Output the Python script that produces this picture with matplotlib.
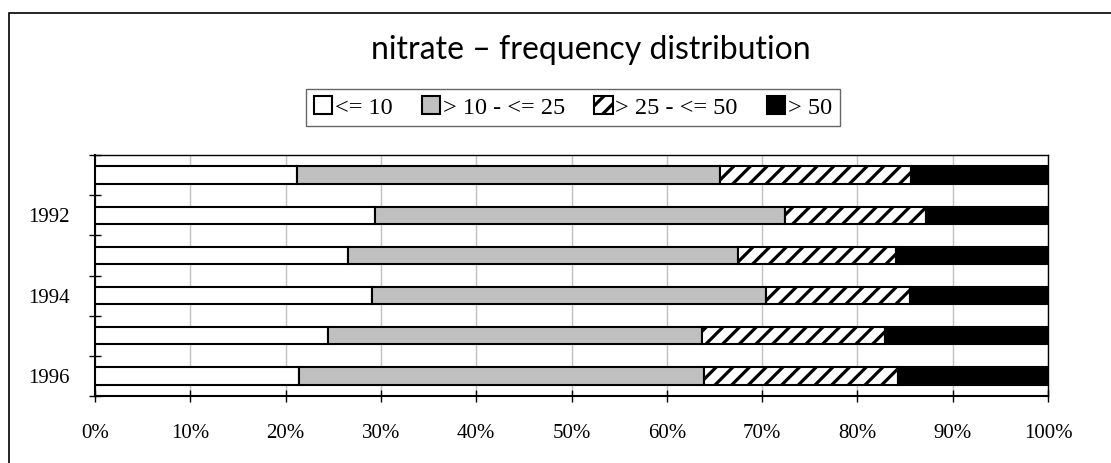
import matplotlib
matplotlib.use("Agg")
import matplotlib.pyplot as plt
from matplotlib.patches import Rectangle
from matplotlib.ticker import FixedLocator, PercentFormatter

# Данные (доли в %), сверху вниз: 1991 ... 1996
years = ["1991", "1992", "1993", "1994", "1995", "1996"]
shown_years = ["1992", "1994", "1996"]
classes = ["<= 10", "> 10 - <= 25", "> 25 - <= 50", "> 50"]
le_10 = [21.2, 29.4, 26.5, 29.1, 24.5, 21.4]
gt10_le25 = [44.4, 43.0, 41.0, 41.3, 39.2, 42.5]
gt25_le50 = [20.0, 14.8, 16.6, 15.1, 19.2, 20.4]
gt_50 = [14.4, 12.8, 15.9, 14.5, 17.1, 15.7]

series = [le_10, gt10_le25, gt25_le50, gt_50]
colors = ["white", "#c0c0c0", "white", "black"]
hatches = [None, None, "//", None]

plt.rcParams["hatch.linewidth"] = 2.3
serif = "Liberation Serif"

fig = plt.figure(figsize=(11.11, 4.63), dpi=100)
ax = fig.add_axes([95 / 1111, 1 - 396 / 463, 953 / 1111, 241 / 463])

pos = list(range(len(years)))
left = [0.0] * len(years)
handles = []
for vals, col, h, lab in zip(series, colors, hatches, classes):
    b = ax.barh(pos, vals, left=left, height=0.43, color=col, hatch=h,
                edgecolor="black", linewidth=1.5, label=lab, zorder=3)
    handles.append(b)
    left = [l + v for l, v in zip(left, vals)]

ax.set_xlim(0, 100)
ax.set_ylim(len(years) - 0.5, -0.5)

ax.xaxis.set_major_locator(FixedLocator(range(0, 101, 10)))
ax.xaxis.set_major_formatter(PercentFormatter(decimals=0))
ax.tick_params(axis="x", direction="inout", length=8, width=1, pad=16,
               labelsize=15)
for t in ax.get_xticklabels():
    t.set_fontfamily(serif)

# подписи только для чётных лет, риски — на границах категорий
ax.set_yticks([years.index(y) for y in shown_years])
ax.set_yticklabels(shown_years, fontfamily=serif, fontsize=15)
ax.tick_params(axis="y", which="major", length=0, pad=18)
ax.set_yticks([p - 0.5 for p in range(len(years) + 1)], minor=True)
ax.tick_params(axis="y", which="minor", direction="inout", length=8, width=1)

ax.grid(axis="x", color="#c0c0c0", linewidth=1, zorder=0)
ax.set_axisbelow(True)
for side in ["left", "bottom"]:
    ax.spines[side].set_linewidth(1.5)
for side in ["top", "right"]:
    ax.spines[side].set_linewidth(1.0)

fig.text(591 / 1111, 1 - 50 / 463, "nitrate \u2013 frequency distribution",
         ha="center", va="center", fontsize=23, family="Lato")

leg = fig.legend(handles=handles, labels=classes, loc="center",
                 bbox_to_anchor=(573 / 1111, 1 - 107.5 / 463), ncol=4,
                 frameon=True, fancybox=False, edgecolor="#404040",
                 prop={"family": serif, "size": 17.5}, handlelength=0.75,
                 handleheight=0.75, handletextpad=0.12, columnspacing=1.2,
                 borderpad=0.3)
leg.get_frame().set_linewidth(1.0)

# внешняя рамка диаграммы (обрезана справа и снизу)
fig.patches.append(Rectangle((9 / 1111, -0.1), 1.2, 1.1 - 13 / 463,
                             transform=fig.transFigure, fill=False,
                             edgecolor="black", linewidth=1.2))

fig.savefig("out.png", dpi=100)
